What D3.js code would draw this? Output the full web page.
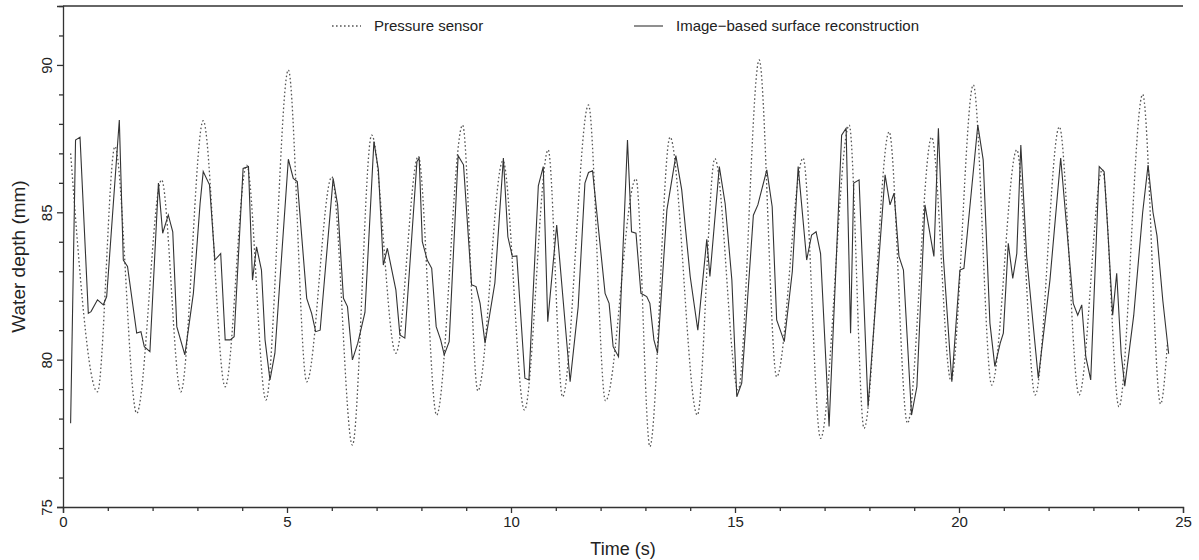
<!DOCTYPE html>
<html>
<head>
<meta charset="utf-8">
<script src="https://cdn.jsdelivr.net/npm/d3@7"></script>
<style>
  body { margin: 0; background: #fff; }
  text { font-family: "Liberation Sans", Arial, sans-serif; fill: #222; }
</style>
</head>
<body>
<div id="chart"></div>
<script>
const WIDTH = 1199;
const HEIGHT = 560;

// DATA
const pressureTime = [
  0.17, 0.77, 1.16, 1.645, 2.2, 2.63, 3.13, 3.62, 4.1, 4.53, 5.03, 5.44, 6.0, 6.46,
  6.89, 7.43, 7.93, 8.34, 8.92, 9.26, 9.82, 10.3, 10.83, 11.15, 11.73, 12.11, 12.79,
  13.1, 13.55, 14.16, 14.55, 15.07, 15.54, 15.93, 16.52, 16.91, 17.55, 17.88, 18.44,
  18.85, 19.39, 19.82, 20.32, 20.73, 21.29, 21.7, 22.24, 22.68, 23.2, 23.57, 24.1,
  24.5, 24.65
];
const pressureDepth = [
  87.0, 78.91, 87.23, 78.18, 86.1, 78.91, 88.11, 79.08, 86.6, 78.63, 89.83, 79.25, 86.2,
  77.1, 87.62, 80.22, 86.9, 78.12, 87.96, 78.94, 86.75, 78.29, 87.12, 78.74, 88.64,
  78.6, 86.14, 77.05, 87.55, 78.12, 86.82, 78.97, 90.17, 79.42, 86.84, 77.33, 87.96,
  77.67, 87.73, 77.84, 87.55, 79.3, 89.32, 79.14, 87.12, 78.8, 87.9, 78.8, 86.45,
  78.4, 89.0, 78.5, 80.5
];

const imageTime = [
  0.17, 0.28, 0.38, 0.565, 0.625, 0.77, 0.9, 0.975, 1.257, 1.346, 1.44, 1.645, 1.74,
  1.815, 1.94, 2.13, 2.225, 2.35, 2.45, 2.54, 2.72, 2.91, 3.06, 3.13, 3.27, 3.39, 3.52,
  3.62, 3.73, 3.82, 4.02, 4.14, 4.23, 4.32, 4.43, 4.51, 4.62, 4.73, 5.03, 5.14, 5.23,
  5.44, 5.55, 5.64, 5.74, 6.03, 6.13, 6.26, 6.35, 6.46, 6.58, 6.74, 6.94, 7.04, 7.15,
  7.24, 7.43, 7.52, 7.63, 7.9, 7.95, 8.02, 8.13, 8.23, 8.33, 8.43, 8.51, 8.62, 8.82,
  8.94, 9.12, 9.22, 9.31, 9.42, 9.64, 9.83, 9.93, 10.03, 10.13, 10.31, 10.4, 10.61,
  10.72, 10.82, 11.02, 11.32, 11.5, 11.65, 11.73, 11.82, 12.1, 12.19, 12.28, 12.4,
  12.6, 12.69, 12.79, 12.9, 13.03, 13.1, 13.19, 13.27, 13.48, 13.68, 13.81, 14.0,
  14.17, 14.37, 14.44, 14.65, 14.78, 14.93, 15.04, 15.15, 15.41, 15.51, 15.71, 15.83,
  15.93, 16.1, 16.28, 16.41, 16.6, 16.71, 16.81, 16.91, 17.1, 17.38, 17.48, 17.58,
  17.65, 17.77, 17.97, 18.35, 18.46, 18.55, 18.66, 18.76, 18.94, 19.06, 19.24, 19.44,
  19.54, 19.65, 19.84, 20.02, 20.11, 20.42, 20.54, 20.69, 20.8, 20.92, 20.99, 21.1,
  21.2, 21.29, 21.38, 21.51, 21.77, 22.03, 22.27, 22.55, 22.65, 22.74, 22.83, 22.94,
  23.13, 23.24, 23.33, 23.43, 23.52, 23.62, 23.7, 23.9, 24.1, 24.22, 24.33, 24.42,
  24.55, 24.68
];
const imageDepth = [
  77.84, 87.45, 87.55, 81.57, 81.63, 82.03, 81.86, 82.14, 88.13, 83.38, 83.16, 80.9,
  80.95, 80.44, 80.27, 85.99, 84.29, 84.91, 84.34, 81.12, 80.16, 82.25, 85.3, 86.38,
  85.93, 83.38, 83.6, 80.67, 80.67, 80.78, 86.49, 86.55, 82.7, 83.83, 83.04, 80.67,
  79.31, 80.22, 86.8, 86.15, 86.04, 82.08, 81.57, 80.95, 81.0, 86.15, 85.25, 82.08,
  81.8, 79.99, 80.56, 81.6, 87.4, 86.44, 83.21, 83.78, 82.37, 80.84, 80.73, 86.72,
  86.84, 84.0, 83.38, 83.1, 81.12, 80.67, 80.16, 80.61, 86.92, 86.61, 82.54, 82.48,
  81.91, 80.56, 82.6, 86.84, 84.17, 83.5, 83.52, 79.37, 79.31, 85.9, 86.55, 81.29,
  84.57, 79.25, 81.8, 85.99, 86.35, 86.41, 82.25, 81.91, 80.44, 80.1, 87.45, 84.34,
  84.29, 82.25, 82.14, 81.91, 80.67, 80.22, 85.08, 86.92, 85.77, 82.82, 81.0, 84.08,
  82.82, 86.55, 85.3, 82.7, 78.74, 79.2, 84.9, 85.25, 86.44, 85.19, 81.35, 80.61,
  83.0, 86.55, 83.38, 84.23, 84.34, 83.6, 77.73, 87.62, 87.85, 80.9, 85.99, 86.1, 78.4,
  86.27, 85.25, 85.65, 83.5, 83.04, 78.12, 79.08, 85.25, 83.5, 87.85, 83.5, 79.25,
  83.04, 83.1, 87.96, 86.78, 81.24, 79.77, 80.56, 80.9, 83.95, 82.76, 83.6, 87.28,
  83.5, 79.37, 82.7, 86.84, 81.91, 81.51, 81.86, 80.1, 79.31, 86.55, 86.38, 84.17,
  81.51, 82.93, 80.2, 79.1, 81.5, 85.0, 86.6, 85.0, 84.2, 82.0, 80.2
];

const xTicks = [0, 5, 10, 15, 20, 25];
const yTicks = [75, 80, 85, 90];
const seriesNames = ["Pressure sensor", "Image\u2212based surface reconstruction"];

const pressure = pressureTime.map((t, i) => ({ t: t, v: pressureDepth[i] }));
const image = imageTime.map((t, i) => ({ t: t, v: imageDepth[i] }));

// SVG
const svg = d3
  .select("#chart")
  .append("svg")
  .attr("width", WIDTH)
  .attr("height", HEIGHT);

// SCALES
const yTop = 92;
const x = d3.scaleLinear().domain([0, 25]).range([63, 1183]);
const y = d3.scaleLinear().domain([75, yTop]).range([507, 6]);

// AXIS
const xAxisGroup = svg
  .append("g")
  .attr("class", "xAxis")
  .attr("transform", `translate(0, ${y(75)})`);
xAxisGroup.call(d3.axisBottom(x).tickValues(xTicks).tickSize(6).tickPadding(3));
xAxisGroup
  .append("g")
  .call(
    d3.axisBottom(x)
      .tickValues(d3.range(0, 26).filter((d) => d % 5 !== 0))
      .tickSize(4)
      .tickFormat("")
  )
  .call((g) => g.select(".domain").remove());

const yAxisGroup = svg
  .append("g")
  .attr("class", "yAxis")
  .attr("transform", `translate(${x(0)}, 0)`);
yAxisGroup.call(d3.axisLeft(y).tickValues(yTicks).tickSize(6));
yAxisGroup
  .selectAll(".tick text")
  .attr("transform", "rotate(-90)")
  .attr("text-anchor", "middle")
  .attr("x", 0)
  .attr("y", -11)
  .attr("dy", "0");
yAxisGroup
  .append("g")
  .call(
    d3.axisLeft(y)
      .tickValues(d3.range(75, yTop + 1).filter((d) => d % 5 !== 0))
      .tickSize(4)
      .tickFormat("")
  )
  .call((g) => g.select(".domain").remove());

svg.selectAll(".xAxis text, .yAxis text").style("font-size", "15px").style("fill", "#222");
svg.selectAll(".xAxis path, .xAxis line, .yAxis path, .yAxis line")
  .style("stroke", "#333")
  .style("stroke-width", 1.3);

// top frame line
svg
  .append("line")
  .attr("x1", x(0))
  .attr("x2", x(25))
  .attr("y1", y(yTop))
  .attr("y2", y(yTop))
  .style("stroke", "#333")
  .style("stroke-width", 1.3);

// LABEL
svg
  .append("text")
  .attr("x", (x(0) + x(25)) / 2)
  .attr("y", 555)
  .attr("text-anchor", "middle")
  .style("font-size", "18px")
  .text("Time (s)");

svg
  .append("text")
  .attr("transform", `translate(25, ${(y(75) + y(yTop)) / 2}) rotate(-90)`)
  .attr("text-anchor", "middle")
  .style("font-size", "19px")
  .text("Water depth (mm)");

// LINES
const line = d3.line().x((d) => x(d.t)).y((d) => y(d.v));

svg
  .append("path")
  .datum(pressure)
  .attr("d", line.curve(d3.curveMonotoneX))
  .attr("fill", "none")
  .attr("stroke", "#555")
  .attr("stroke-width", 1.3)
  .attr("stroke-dasharray", "1.6,2.4");

svg
  .append("path")
  .datum(image)
  .attr("d", line.curve(d3.curveLinear))
  .attr("fill", "none")
  .attr("stroke", "#333")
  .attr("stroke-width", 1.1);

// LEGEND
const legend = svg.append("g").attr("class", "legend");
const legendX = [332, 634];
legend
  .selectAll("line")
  .data(seriesNames)
  .enter()
  .append("line")
  .attr("x1", (d, i) => legendX[i])
  .attr("x2", (d, i) => legendX[i] + 29)
  .attr("y1", 26)
  .attr("y2", 26)
  .attr("stroke", (d, i) => (i === 0 ? "#555" : "#333"))
  .attr("stroke-width", (d, i) => (i === 0 ? 1.3 : 1.1))
  .attr("stroke-dasharray", (d, i) => (i === 0 ? "1.6,2.4" : null));
legend
  .selectAll("text")
  .data(seriesNames)
  .enter()
  .append("text")
  .attr("x", (d, i) => legendX[i] + 42)
  .attr("y", 31)
  .style("font-size", "15px")
  .text((d) => d);
</script>
</body>
</html>
